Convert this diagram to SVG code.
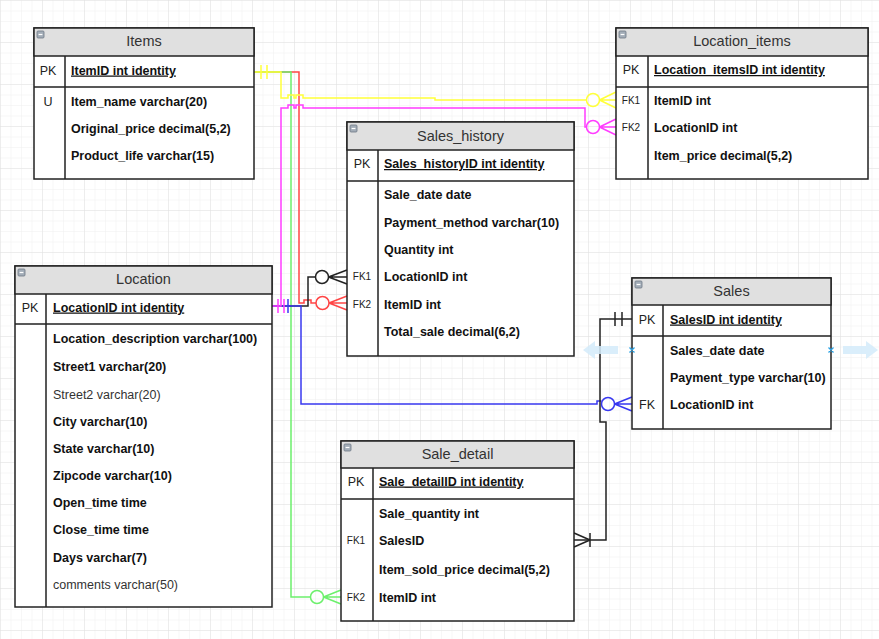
<svg xmlns="http://www.w3.org/2000/svg" width="879" height="639" viewBox="0 0 879 639">
  <defs>
    <pattern id="gridMinor" width="10.5" height="10.5" patternUnits="userSpaceOnUse">
      <path d="M10.5 0H0V10.5" fill="none" stroke="#efefef" stroke-width="1"/>
    </pattern>
    <pattern id="gridMajor" width="42" height="42" patternUnits="userSpaceOnUse">
      <rect width="42" height="42" fill="url(#gridMinor)"/>
      <path d="M42 0H0V42" fill="none" stroke="#e2e2e2" stroke-width="1"/>
    </pattern>
    <g id="toggle">
      <rect x="0" y="0" width="7" height="7" rx="1" fill="#a3adb8" stroke="#6f7a86" stroke-width="0.8"/>
      <line x1="1.6" y1="3.5" x2="5.4" y2="3.5" stroke="#fff" stroke-width="1.2"/>
    </g>
  </defs>
  <style>
    .tbl { fill: #fff; stroke: #222; stroke-width: 1.5; }
    .hdr { fill: #e0e0e0; stroke: #222; stroke-width: 1.5; }
    .sep { stroke: #222; stroke-width: 1.5; fill: none; }
    .title { font-family: "Liberation Sans", Arial, sans-serif; font-size: 14.5px; fill: #333; text-anchor: middle; }
    .key { font-family: "Liberation Sans", Arial, sans-serif; font-size: 12.5px; fill: #222; text-anchor: middle; }
    .fk { font-family: "Liberation Sans", Arial, sans-serif; font-size: 10px; fill: #222; text-anchor: middle; }
    .fld { font-family: "Liberation Sans", Arial, sans-serif; font-size: 12.5px; font-weight: bold; fill: #111; }
    .pk { text-decoration: underline; }
    .reg { font-weight: normal; fill: #333; }
    .edge { fill: none; stroke-width: 1.5; stroke-linejoin: miter; }
  </style>

  <rect width="879" height="639" fill="#fff"/>
  <rect width="879" height="639" fill="url(#gridMajor)"/>

  <!-- connectors -->
  <g id="connectors" class="edge">
    <!-- Items.ItemID -> Sales_history.ItemID (red) -->
    <g stroke="#ff4545">
      <path d="M254 72H299V303H304V300H311V303H316"/>
      <circle cx="322.5" cy="303" r="6.5"/>
      <path d="M329 303H347M329 303L347 296M329 303L347 310"/>
    </g>
    <!-- Items.ItemID -> Sale_detail.ItemID (green) -->
    <g stroke="#6cf06c">
      <path d="M254 72H291V597H310.5"/>
      <circle cx="317" cy="597" r="6.5"/>
      <path d="M323.5 597H341M323.5 597L341 590M323.5 597L341 604"/>
    </g>
    <!-- Items.ItemID -> Location_items.ItemID (yellow) -->
    <g stroke="#ffff3a">
      <path d="M254 72H281V98H288V95H294V98H296V95H303V98H435V100H586.5"/>
      <circle cx="593" cy="100" r="6.5"/>
      <path d="M599.5 100H616M599.5 100L616 92M599.5 100L616 108"/>
      <path d="M261 65V79M267 65V79"/>
    </g>
    <!-- Location.LocationID -> Sales_history.LocationID (black) -->
    <g stroke="#222">
      <path d="M272 306H308V277H315.5"/>
      <circle cx="322" cy="277" r="6.5"/>
      <path d="M328.5 277H347M328.5 277L347 270M328.5 277L347 284"/>
    </g>
    <!-- Location.LocationID -> Sales.LocationID (blue) -->
    <g stroke="#3838f0">
      <path d="M272 306H301V404H597V401H601.5"/>
      <circle cx="608" cy="404" r="6.5"/>
      <path d="M614.5 404H632M614.5 404L632 397M614.5 404L632 411"/>
      <path d="M288 299V313"/>
    </g>
    <!-- Location.LocationID -> Location_items.LocationID (magenta) -->
    <g stroke="#ff3cff">
      <path d="M272 306H281V108H288V105H294V108H296V105H303V108H585V127H586.5"/>
      <circle cx="593" cy="127" r="6.5"/>
      <path d="M599.5 127H616M599.5 127L616 119M599.5 127L616 135"/>
      <path d="M278 299V313M284 299V313"/>
    </g>
    <!-- Sales.SalesID -> Sale_detail.SalesID (black) -->
    <g stroke="#222">
      <path d="M632 319H600V422H606V540H574"/>
      <path d="M615 312V326M622 312V326"/>
      <path d="M590 533V547M590 540L574 533M590 540L574 547"/>
    </g>
  </g>

  <!-- Items -->
  <g id="items">
    <rect class="tbl" x="34" y="28" width="220" height="151"/>
    <rect class="hdr" x="34" y="28" width="220" height="28"/>
    <path class="sep" d="M34 87H254M65 56V179"/>
    <use href="#toggle" x="37" y="31"/>
    <text class="title" x="144" y="46">Items</text>
    <text class="key" x="48" y="74.5">PK</text>
    <text class="fld pk" x="71" y="74.5">ItemID int identity</text>
    <text class="key" x="48" y="105.5">U</text>
    <text class="fld" x="71" y="105.5">Item_name varchar(20)</text>
    <text class="fld" x="71" y="132.5">Original_price decimal(5,2)</text>
    <text class="fld" x="71" y="159.5">Product_life varchar(15)</text>
  </g>

  <!-- Location_items -->
  <g id="location_items">
    <rect class="tbl" x="616" y="28" width="252" height="151"/>
    <rect class="hdr" x="616" y="28" width="252" height="28"/>
    <path class="sep" d="M616 87H868M648 56V179"/>
    <use href="#toggle" x="619" y="31"/>
    <text class="title" x="742" y="46">Location_items</text>
    <text class="key" x="631" y="74">PK</text>
    <text class="fld pk" x="654" y="74">Location_itemsID int identity</text>
    <text class="fk" x="631" y="104">FK1</text>
    <text class="fld" x="654" y="104.5">ItemID int</text>
    <text class="fk" x="631" y="131">FK2</text>
    <text class="fld" x="654" y="131.5">LocationID int</text>
    <text class="fld" x="654" y="159.5">Item_price decimal(5,2)</text>
  </g>

  <!-- Sales_history -->
  <g id="sales_history">
    <rect class="tbl" x="347" y="122" width="227" height="234"/>
    <rect class="hdr" x="347" y="122" width="227" height="28"/>
    <path class="sep" d="M347 181H574M378 150V356"/>
    <use href="#toggle" x="350" y="125"/>
    <text class="title" x="460.5" y="141">Sales_history</text>
    <text class="key" x="362" y="168">PK</text>
    <text class="fld pk" x="384" y="168">Sales_historyID int identity</text>
    <text class="fld" x="384" y="199">Sale_date date</text>
    <text class="fld" x="384" y="226.5">Payment_method varchar(10)</text>
    <text class="fld" x="384" y="254">Quantity int</text>
    <text class="fk" x="362" y="280">FK1</text>
    <text class="fld" x="384" y="280.5">LocationID int</text>
    <text class="fk" x="362" y="308">FK2</text>
    <text class="fld" x="384" y="308.5">ItemID int</text>
    <text class="fld" x="384" y="335.5">Total_sale decimal(6,2)</text>
  </g>

  <!-- Location -->
  <g id="location">
    <rect class="tbl" x="15" y="266" width="257" height="341"/>
    <rect class="hdr" x="15" y="266" width="257" height="28"/>
    <path class="sep" d="M15 324H272M46 294V607"/>
    <use href="#toggle" x="18" y="269"/>
    <text class="title" x="143.5" y="284">Location</text>
    <text class="key" x="30" y="311.5">PK</text>
    <text class="fld pk" x="53" y="311.5">LocationID int identity</text>
    <text class="fld" x="53" y="342.5">Location_description varchar(100)</text>
    <text class="fld" x="53" y="370.5">Street1 varchar(20)</text>
    <text class="fld reg" x="53" y="398.5">Street2 varchar(20)</text>
    <text class="fld" x="53" y="425.5">City varchar(10)</text>
    <text class="fld" x="53" y="452.5">State varchar(10)</text>
    <text class="fld" x="53" y="479.5">Zipcode varchar(10)</text>
    <text class="fld" x="53" y="506.5">Open_time time</text>
    <text class="fld" x="53" y="533.5">Close_time time</text>
    <text class="fld" x="53" y="561.5">Days varchar(7)</text>
    <text class="fld reg" x="53" y="589">comments varchar(50)</text>
  </g>

  <!-- Sales -->
  <g id="sales">
    <rect class="tbl" x="632" y="278" width="199" height="151"/>
    <rect class="hdr" x="632" y="278" width="199" height="27"/>
    <path class="sep" d="M632 336H831M663 305V429"/>
    <use href="#toggle" x="635" y="281"/>
    <text class="title" x="731.5" y="296">Sales</text>
    <text class="key" x="647" y="323.5">PK</text>
    <text class="fld pk" x="670" y="323.5">SalesID int identity</text>
    <text class="fld" x="670" y="354.5">Sales_date date</text>
    <text class="fld" x="670" y="382">Payment_type varchar(10)</text>
    <text class="key" x="647" y="408.5">FK</text>
    <text class="fld" x="670" y="408.5">LocationID int</text>
  </g>

  <!-- Sale_detail -->
  <g id="sale_detail">
    <rect class="tbl" x="341" y="441" width="233" height="180"/>
    <rect class="hdr" x="341" y="441" width="233" height="27"/>
    <path class="sep" d="M341 499H574M373 468V621"/>
    <use href="#toggle" x="344" y="444"/>
    <text class="title" x="457.5" y="459">Sale_detail</text>
    <text class="key" x="356" y="485.5">PK</text>
    <text class="fld pk" x="379" y="485.5">Sale_detailID int identity</text>
    <text class="fld" x="379" y="517.5">Sale_quantity int</text>
    <text class="fk" x="356" y="544">FK1</text>
    <text class="fld" x="379" y="544.5">SalesID</text>
    <text class="fld" x="379" y="573.5">Item_sold_price decimal(5,2)</text>
    <text class="fk" x="356" y="601">FK2</text>
    <text class="fld" x="379" y="601.5">ItemID int</text>
  </g>

  <!-- selection handles beside the Sales table -->
  <g id="sales-handles">
    <path d="M583 350L595 341V346H618V354H595V359Z" fill="#d4ebfa" opacity="0.85"/>
    <path d="M878 350L866 341V346H843V354H866V359Z" fill="#d4ebfa" opacity="0.85"/>
    <path d="M629.5 347.5L634.5 352.5M634.5 347.5L629.5 352.5M828.5 347.5L833.5 352.5M833.5 347.5L828.5 352.5" stroke="#2aa3e6" stroke-width="1.3"/>
  </g>
</svg>
